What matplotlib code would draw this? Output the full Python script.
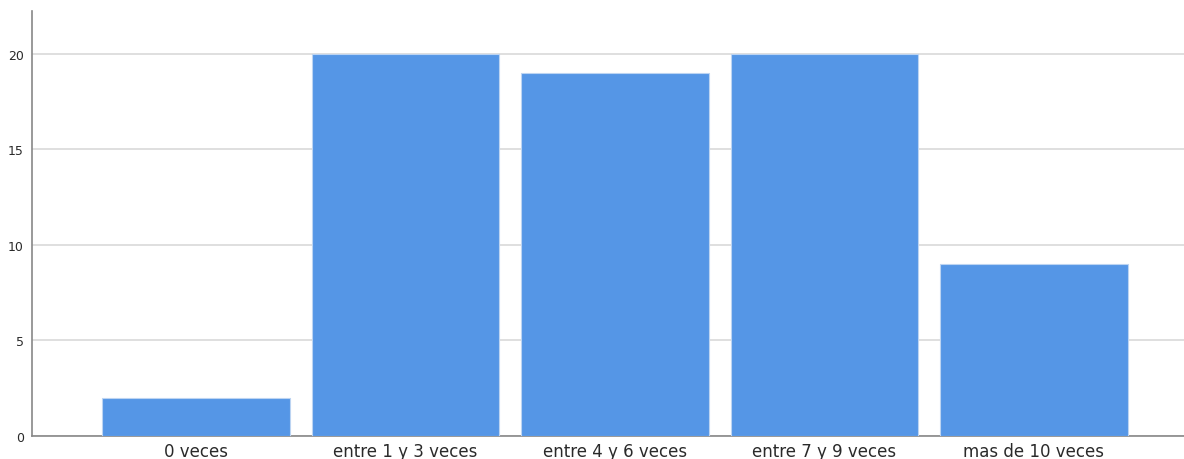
import matplotlib
matplotlib.use("Agg")
import matplotlib.pyplot as plt

# Datos
categorias = ["0 veces", "entre 1 y 3 veces", "entre 4 y 6 veces",
              "entre 7 y 9 veces", "mas de 10 veces"]
frecuencias = [2, 20, 19, 20, 9]

plt.rcParams['font.family'] = ['DejaVu Sans']

fig = plt.figure(figsize=(11.84, 4.6), dpi=100)
ax = fig.add_axes([0.027, 0.05, 0.973, 0.924])

x = list(range(len(categorias)))
ax.bar(x, frecuencias, width=0.897, color='#5596E6', edgecolor='#BCD4F2',
       linewidth=0.8, zorder=3)

ax.set_xlim(-0.783, 4.716)
ax.set_ylim(0, 22.25)
ax.set_yticks([0, 5, 10, 15, 20])
ax.set_xticks(x)
ax.set_xticklabels(categorias, fontsize=12, color='#2a2a2a')
ax.tick_params(axis='y', labelsize=9, colors='#2a2a2a', length=0, pad=6)
ax.tick_params(axis='x', length=0, pad=4)

# Rejilla horizontal
ax.grid(axis='y', color='#D9D9D9', linewidth=1.2, zorder=0)
ax.set_axisbelow(True)

for lado in ['top', 'right']:
    ax.spines[lado].set_visible(False)
ax.spines['left'].set_color('#888888')
ax.spines['bottom'].set_color('#888888')
ax.spines['left'].set_linewidth(1.2)
ax.spines['bottom'].set_linewidth(1.2)

fig.savefig("out.png", dpi=100)
